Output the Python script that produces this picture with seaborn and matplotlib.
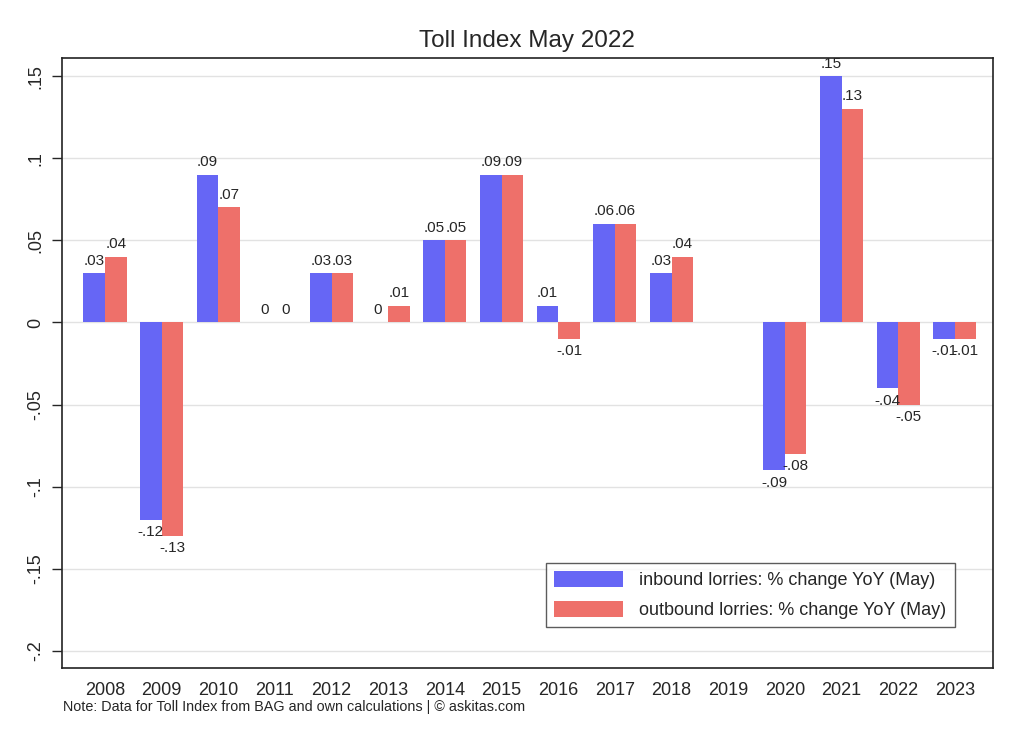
import numpy as np
import pandas as pd
import seaborn as sns
import matplotlib.pyplot as plt

years = [str(y) for y in range(2008, 2024)]
inbound = [.03, -.12, .09, 0, .03, 0, .05, .09, .01, .06, .03, np.nan, -.09, .15, -.04, -.01]
outbound = [.04, -.13, .07, 0, .03, .01, .05, .09, -.01, .06, .04, np.nan, -.08, .13, -.05, -.01]
series = ["inbound lorries: % change YoY (May)", "outbound lorries: % change YoY (May)"]
yticks = [.15, .1, .05, 0, -.05, -.1, -.15, -.2]

df = pd.DataFrame({
    "year": years * 2,
    "value": inbound + outbound,
    "series": [series[0]] * len(years) + [series[1]] * len(years),
})


def stata_fmt(v):
    v = round(v, 2)
    if v == 0:
        return "0"
    s = f"{v:g}"
    return s.replace("0.", ".")


sns.set_style("white")
plt.rcParams["font.family"] = ["Liberation Sans", "DejaVu Sans"]

fig = plt.figure(figsize=(10.24, 7.45), dpi=100)
ax = fig.add_axes([0.0605, 0.1034, 0.909, 0.8187])

sns.barplot(data=df, x="year", y="value", hue="series", order=years, hue_order=series,
            palette=["#6666F5", "#EE706A"], saturation=1, width=0.76, ax=ax,
            edgecolor="none", linewidth=0, zorder=3)

for c in ax.containers:
    ax.bar_label(c, fmt=stata_fmt, padding=4, fontsize=11, zorder=4)

ax.set_ylim(-0.2104, 0.161)
ax.set_xlim(-0.76, 15.67)
ax.set_yticks(yticks)
ax.set_yticklabels([stata_fmt(t) for t in yticks], rotation=90, va="center", fontsize=13)
ax.tick_params(axis="y", length=7, width=1, direction="out", left=True, pad=6)
ax.tick_params(axis="x", length=0, labelsize=13, pad=10)
for t in yticks:
    ax.axhline(t, color="#E2E2E2", linewidth=1, zorder=1)

for s in ax.spines.values():
    s.set_color("#222222")
    s.set_linewidth(1.2)

ax.set_xlabel("")
ax.set_ylabel("")
ax.set_title("Toll Index May 2022", fontsize=17.5, pad=8)

leg = ax.legend(loc="lower right", bbox_to_anchor=(0.959, 0.067), fontsize=13,
                frameon=True, fancybox=False, edgecolor="#333333", handlelength=3.8,
                handleheight=1.0, handletextpad=0.9, borderpad=0.45, labelspacing=0.65,
                borderaxespad=0)
leg.get_frame().set_linewidth(1)

fig.text(0.0615, 0.051, "Note: Data for Toll Index from BAG and own calculations | \u00a9 askitas.com",
         fontsize=10.4, ha="left", va="center")

fig.savefig("out.png", dpi=100)
